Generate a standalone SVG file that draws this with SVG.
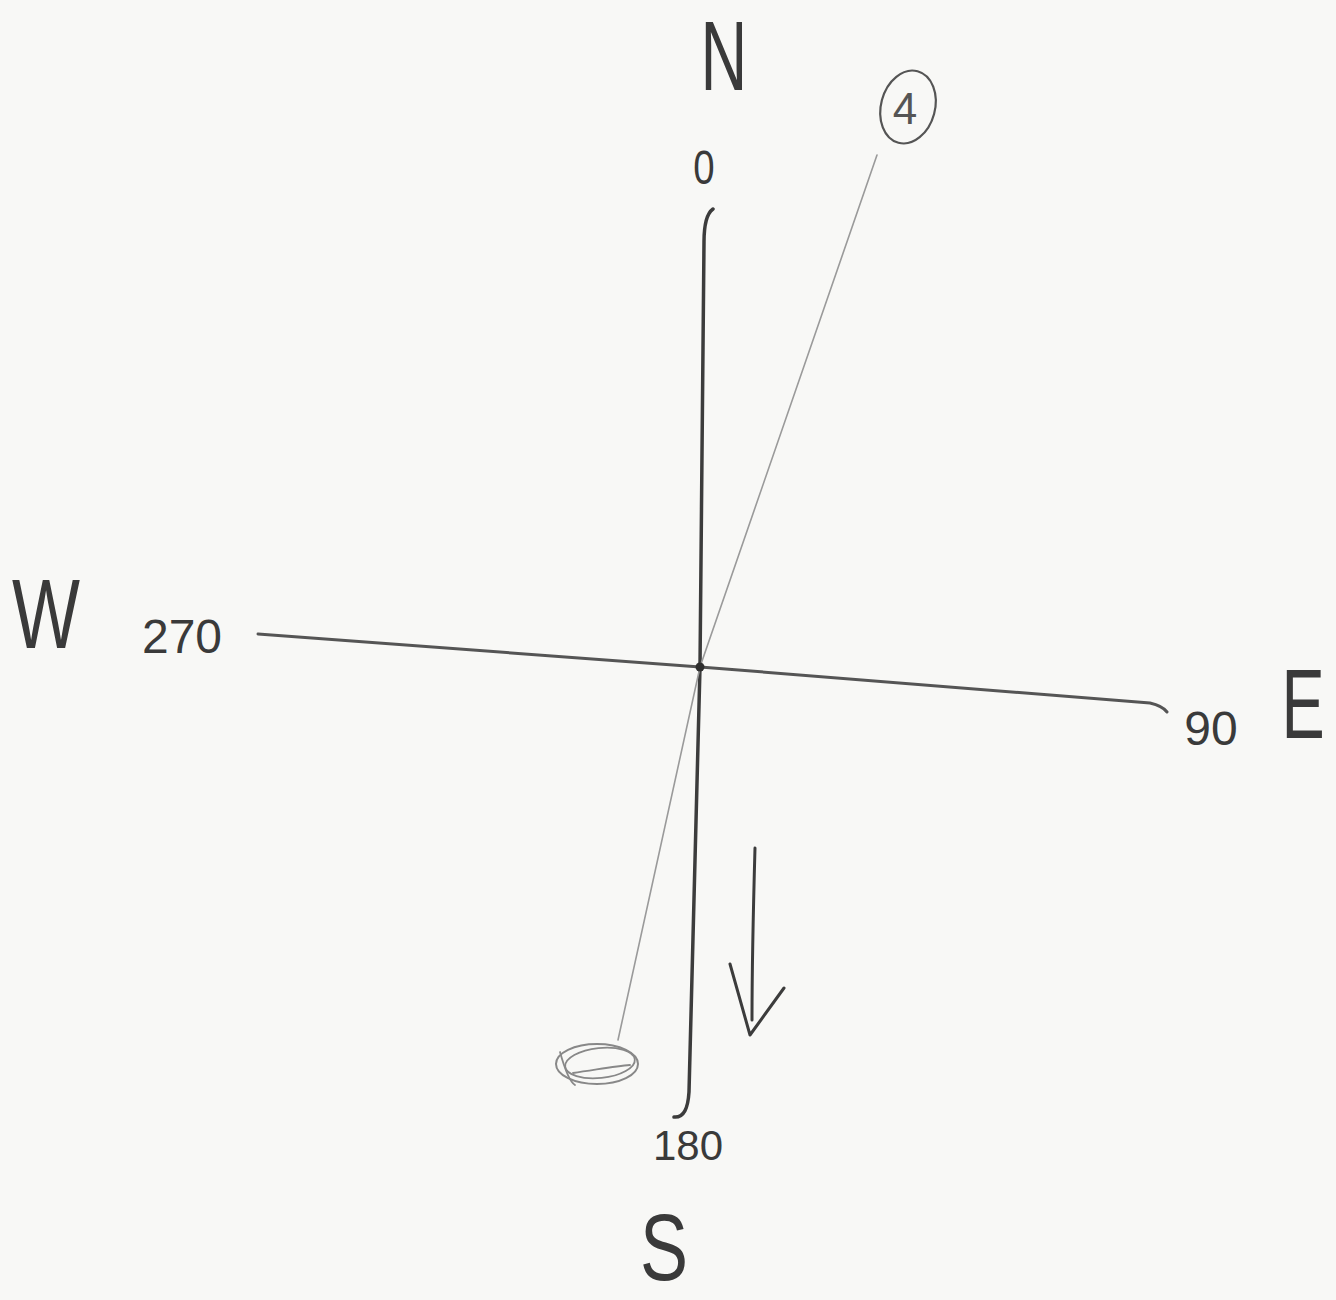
<svg xmlns="http://www.w3.org/2000/svg" width="1336" height="1300" viewBox="0 0 1336 1300">
<style>
.pen{fill:none;stroke:#3c3c3c;stroke-width:3.5;stroke-linecap:round;stroke-linejoin:round}
.faint{fill:none;stroke:#9a9a9a;stroke-width:1.6;stroke-linecap:round}
.lbl{font-family:"Liberation Sans","DejaVu Sans",sans-serif;fill:#3a3a3a;text-anchor:middle}
.big{font-size:90px}
.num{font-size:48px}
</style>
<rect width="1336" height="1300" fill="#f8f8f6"/>
<g id="connectors">
<path class="pen" d="M713,209 C706,214 704,226 704,242 L700,667 L689,1092 C688,1108 684,1118 674,1117"/>
<path class="pen" style="stroke:#555;stroke-width:3" d="M258,634 L700,667 L1150,703 C1159,705 1164,708 1167,712"/>
<path class="faint" d="M877,155 L700,667 L618,1040"/>
<path class="pen" style="stroke-width:3" d="M755,848 C753,920 752,980 752,1020"/>
<path class="pen" style="stroke-width:3" d="M730,964 L750,1035 L784,988"/>
</g>
<g id="center"><circle cx="700" cy="667" r="4.5" fill="#2e2e2e"/></g>
<g id="scribble">
<ellipse class="faint" cx="597" cy="1064" rx="41" ry="20" style="stroke:#888;stroke-width:2"/>
<ellipse class="faint" cx="600" cy="1063" rx="35" ry="15" transform="rotate(-6 600 1063)" style="stroke:#888;stroke-width:1.8"/>
<path class="faint" d="M560,1052 C565,1070 570,1082 575,1085 M573,1073 C595,1070 615,1066 630,1065" style="stroke:#888;stroke-width:1.8"/>
</g>
<g id="north">
<text class="lbl big" x="724" y="90" transform="translate(724 90) scale(0.72 1.1) translate(-724 -90)">N</text>
<text class="lbl num" x="704" y="184" transform="translate(704 184) scale(0.8 1) translate(-704 -184)">0</text>
</g>
<g id="mark4">
<ellipse cx="908" cy="107" rx="27" ry="37" fill="none" stroke="#555" stroke-width="2.2" transform="rotate(15 908 107)"/>
<text class="lbl" x="905" y="124" style="font-size:44px;fill:#555">4</text>
</g>
<g id="west">
<text class="lbl big" x="46" y="648" transform="translate(46 648) scale(0.8 1.1) translate(-46 -648)">W</text>
<text class="lbl num" x="182" y="653">270</text>
</g>
<g id="east">
<text class="lbl num" x="1211" y="745">90</text>
<text class="lbl big" x="1303" y="738" transform="translate(1303 738) scale(0.72 1.1) translate(-1303 -738)">E</text>
</g>
<g id="south">
<text class="lbl" x="688" y="1160" style="font-size:42px">180</text>
<text class="lbl big" x="664" y="1280" transform="translate(664 1280) scale(0.8 1.05) translate(-664 -1280)">S</text>
</g>
</svg>
